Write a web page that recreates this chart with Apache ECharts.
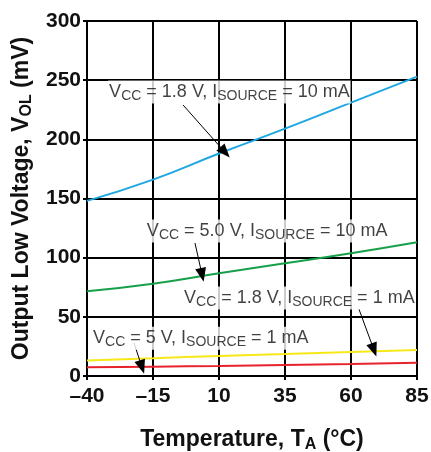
<!DOCTYPE html>
<html>
<head>
<meta charset="utf-8">
<script src="https://cdn.jsdelivr.net/npm/echarts@6/dist/echarts.min.js"></script>
<style>html,body{margin:0;padding:0;background:#fff;}#c{width:431px;height:452px;}</style>
</head>
<body>
<div id="c"></div>
<script>
// Data
const temps = [-40, -15, 10, 35, 60, 85];
const vcc18_10mA = [148, 166, 188, 209, 231, 253];
const vcc50_10mA = [71.6, 78, 86.8, 95.2, 103.7, 113];
const vcc18_1mA = [13, 14.9, 17, 18.5, 20.3, 22];
const vcc5_1mA = [7.3, 7.9, 8.5, 9.3, 10.2, 11.3];
const xTicks = [-40, -15, 10, 35, 60, 85];
const yTicks = [0, 50, 100, 150, 200, 250, 300];

// Annotations: label anchor (left-middle of text) and arrow start/end in data coords
const labelTexts = [
  '{n|V}{s|CC}{n| = 1.8 V, I}{s|SOURCE}{n| = 10 mA}',
  '{n|V}{s|CC}{n| = 5.0 V, I}{s|SOURCE}{n| = 10 mA}',
  '{n|V}{s|CC}{n| = 1.8 V, I}{s|SOURCE}{n| = 1 mA}',
  '{n|V}{s|CC}{n| = 5 V, I}{s|SOURCE}{n| = 1 mA}'
];
const labelAnchors = [[-32, 240], [-17.7, 122.5], [-3.6, 66], [-38.1, 32]];
const arrowStarts = [[-3.6, 229], [0.9, 112.4], [63, 56.6], [-22.2, 27.9]];
const arrowEnds = [[12.3, 189], [3.6, 85.4], [68.7, 22], [-19.2, 7.6]];

const fmt = v => String(v).replace('-', '\u2013');
const pairs = arr => temps.map((t, i) => [t, arr[i]]);

const rich = {
  n: {fontSize: 18, fontFamily: 'Liberation Sans', color: '#111', verticalAlign: 'middle'},
  s: {fontSize: 14, fontFamily: 'Liberation Sans', color: '#111', padding: [9, 0, 0, 0], verticalAlign: 'middle'}
};

const lineSeries = (arr, color) => ({
  type: 'line', data: pairs(arr), smooth: true, showSymbol: false, silent: true,
  lineStyle: {color: color, width: 2}, z: 3
});

const nameRich = {s: {fontSize: 16, fontWeight: 'bold', fontFamily: 'Liberation Sans', color: '#111', padding: [11, 0, 0, 0]}};

const chart = echarts.init(document.getElementById('c'), null, {renderer: 'canvas'});
chart.setOption({
  animation: false,
  backgroundColor: '#fff',
  grid: {left: 87, right: 14, top: 21, bottom: 76, containLabel: false, outerBoundsMode: 'none'},
  xAxis: {
    type: 'value', min: xTicks[0], max: xTicks[xTicks.length - 1], interval: 25,
    axisLine: {show: true, onZero: false, lineStyle: {color: '#000', width: 2}},
    axisTick: {show: true, length: 4, lineStyle: {color: '#000', width: 2}},
    splitLine: {show: true, lineStyle: {color: '#000', width: 2}},
    axisLabel: {formatter: fmt, fontSize: 21, fontWeight: 'bold', fontFamily: 'Liberation Sans', color: '#111', margin: 10},
    name: 'Temperature, T{s|A} (°C)', nameLocation: 'middle', nameGap: 50,
    nameTextStyle: {fontSize: 23, fontWeight: 'bold', fontFamily: 'Liberation Sans', color: '#111', rich: nameRich}
  },
  yAxis: {
    type: 'value', min: yTicks[0], max: yTicks[yTicks.length - 1], interval: 50,
    axisLine: {show: true, onZero: false, lineStyle: {color: '#000', width: 2}},
    axisTick: {show: true, length: 4, lineStyle: {color: '#000', width: 2}},
    splitLine: {show: true, lineStyle: {color: '#000', width: 2}},
    axisLabel: {fontSize: 21, fontWeight: 'bold', fontFamily: 'Liberation Sans', color: '#111', margin: 6},
    name: 'Output Low Voltage, V{s|OL} (mV)', nameLocation: 'middle', nameGap: 52,
    nameTextStyle: {fontSize: 23, fontWeight: 'bold', fontFamily: 'Liberation Sans', color: '#111', rich: nameRich}
  },
  series: [
    lineSeries(vcc18_10mA, '#1ea7e1'),
    lineSeries(vcc50_10mA, '#16a04a'),
    lineSeries(vcc18_1mA, '#f7e81a'),
    lineSeries(vcc5_1mA, '#e8222c'),
    {
      type: 'scatter', symbolSize: 0, silent: true, z: 5,
      data: labelAnchors.map((p, i) => ({value: p, label: {formatter: labelTexts[i]}})),
      label: {show: true, position: 'right', distance: 0, backgroundColor: '#fff', padding: [0, 1, 0, 1], rich: rich},
      markLine: {
        silent: true, symbol: ['none', 'triangle'], symbolSize: [11, 14], precision: 4,
        label: {show: false},
        lineStyle: {color: '#000', width: 1, type: 'solid'},
        data: arrowStarts.map((s, i) => [{coord: s}, {coord: arrowEnds[i]}])
      }
    }
  ]
});
</script>
</body>
</html>
